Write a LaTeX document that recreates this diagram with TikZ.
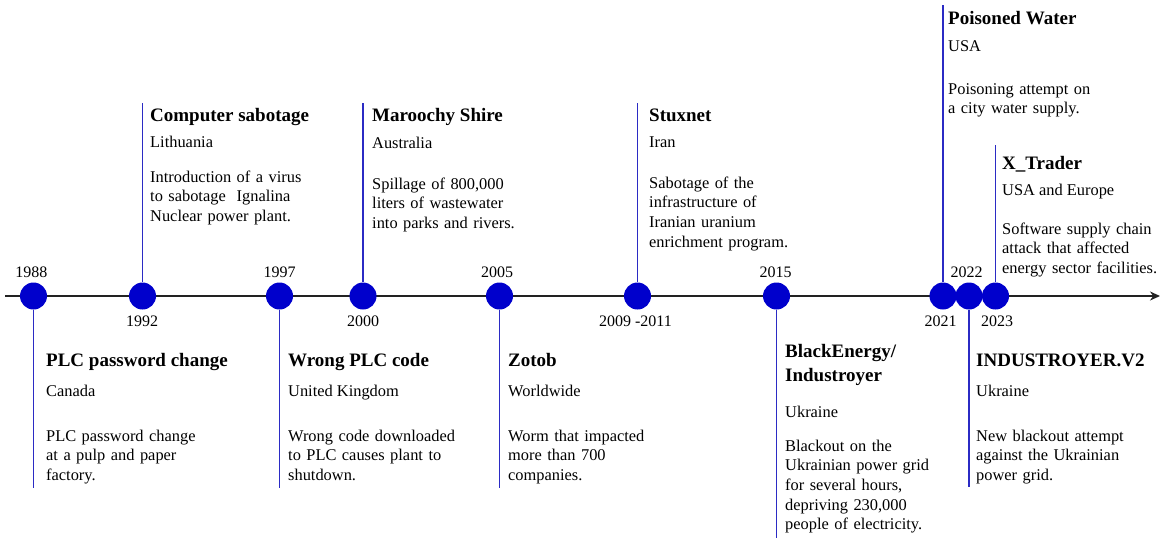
\documentclass[tikz,border=0pt]{standalone}
\usepackage{fontspec}
\setmainfont{Liberation Serif}
\usetikzlibrary{arrows.meta}
\definecolor{dotblue}{HTML}{0000CC}
\definecolor{stemblue}{HTML}{2B2BC4}
\definecolor{axisgray}{HTML}{222222}
\begin{document}
\begin{tikzpicture}[x=1pt,y=-1pt,
  dot/.style={circle,fill=dotblue,minimum size=27pt,inner sep=0pt},
  stem/.style={draw=stemblue,line width=1.7pt},
  yearlbl/.style={font=\fontsize{16}{19}\selectfont,inner sep=0pt,anchor=base},
  ttl/.style={font=\fontsize{19}{24.5}\selectfont\bfseries,inner sep=0pt,anchor=base west},
  ttltwo/.style={ttl,text width=200pt,align=left},
  ctry/.style={font=\fontsize{16.4}{19.7}\selectfont,inner sep=0pt,anchor=base west},
  desc/.style={font=\fontsize{16.4}{19.7}\selectfont,inner sep=0pt,anchor=base west,text width=230pt,align=left}]
\useasboundingbox (0,0) rectangle (1161,538);

% axis
\coordinate (axL) at (5,296);
\coordinate (axR) at (1160,296);
\draw[axisgray,line width=1.6pt,-{Stealth[length=10pt,width=9pt]}] (axL) -- (axR);

% stem end points
\coordinate (s1) at (33.5,488);
\coordinate (s2) at (142.5,103);
\coordinate (s3) at (279.5,488);
\coordinate (s4) at (363,103);
\coordinate (s5) at (499.5,488);
\coordinate (s6) at (637.5,103);
\coordinate (s7) at (776.5,538);
\coordinate (s8) at (943,5);
\coordinate (s9) at (969,487);
\coordinate (s10) at (995.5,145);

% dots
\node[dot] (e1) at (33.5,296) {};
\node[dot] (e2) at (142.5,296) {};
\node[dot] (e3) at (279.5,296) {};
\node[dot] (e4) at (363,296) {};
\node[dot] (e5) at (499.5,296) {};
\node[dot] (e6) at (637.5,296) {};
\node[dot] (e7) at (776.5,296) {};
\node[dot] (e8) at (943,296) {};
\node[dot] (e9) at (969,296) {};
\node[dot] (e10) at (995.5,296) {};

% stems
\foreach \i in {1,...,10} { \draw[stem] (e\i) -- (s\i); }

% years
\node[yearlbl] (y1) at (31.5,277) {1988};
\node[yearlbl] (y2) at (142,326) {1992};
\node[yearlbl] (y3) at (279.5,277) {1997};
\node[yearlbl] (y4) at (363,326) {2000};
\node[yearlbl] (y5) at (497,277) {2005};
\node[yearlbl] (y6) at (635.5,326) {2009 -2011};
\node[yearlbl] (y7) at (775.5,277) {2015};
\node[yearlbl] (y8) at (940.5,326) {2021};
\node[yearlbl] (y9) at (966.5,277) {2022};
\node[yearlbl] (y10) at (997,326) {2023};

% event 1
\node[ttl] (t1) at (46,366) {PLC password change};
\node[ctry] (c1) at (46,396) {Canada};
\node[desc] (d1) at (46,441) {PLC password change\\at a pulp and paper\\factory.};
% event 2
\node[ttl] (t2) at (150,121) {Computer sabotage};
\node[ctry] (c2) at (150,147) {Lithuania};
\node[desc] (d2) at (150,182) {Introduction of a virus\\to sabotage\ \ Ignalina\\Nuclear power plant.};
% event 3
\node[ttl] (t3) at (288,366) {Wrong PLC code};
\node[ctry] (c3) at (288,396) {United Kingdom};
\node[desc] (d3) at (288,441) {Wrong code downloaded\\to PLC causes plant to\\shutdown.};
% event 4
\node[ttl] (t4) at (372,121) {Maroochy Shire};
\node[ctry] (c4) at (372,148) {Australia};
\node[desc] (d4) at (372,189) {Spillage of 800,000\\liters of wastewater\\into parks and rivers.};
% event 5
\node[ttl] (t5) at (508,366) {Zotob};
\node[ctry] (c5) at (508,396) {Worldwide};
\node[desc] (d5) at (508,441) {Worm that impacted\\more than 700\\companies.};
% event 6
\node[ttl] (t6) at (649,121) {Stuxnet};
\node[ctry] (c6) at (649,147) {Iran};
\node[desc] (d6) at (649,188) {Sabotage of the\\infrastructure of\\Iranian uranium\\enrichment program.};
% event 7
\node[ttltwo] (t7) at (785,357) {BlackEnergy/\\Industroyer};
\node[ctry] (c7) at (785,417) {Ukraine};
\node[desc] (d7) at (785,451) {Blackout on the\\Ukrainian power grid\\for several hours,\\depriving 230,000\\people of electricity.};
% event 8
\node[ttl] (t8) at (948,24) {Poisoned Water};
\node[ctry] (c8) at (948,51) {USA};
\node[desc] (d8) at (948,94) {Poisoning attempt on\\a city water supply.};
% event 9
\node[ttl] (t9) at (976,366) {INDUSTROYER.V2};
\node[ctry] (c9) at (976,396) {Ukraine};
\node[desc] (d9) at (976,441) {New blackout attempt\\against the Ukrainian\\power grid.};
% event 10
\node[ttl] (t10) at (1002,169) {X\_Trader};
\node[ctry] (c10) at (1002,195) {USA and Europe};
\node[desc] (d10) at (1002,234) {Software supply chain\\attack that affected\\energy sector facilities.};
\end{tikzpicture}
\end{document}
